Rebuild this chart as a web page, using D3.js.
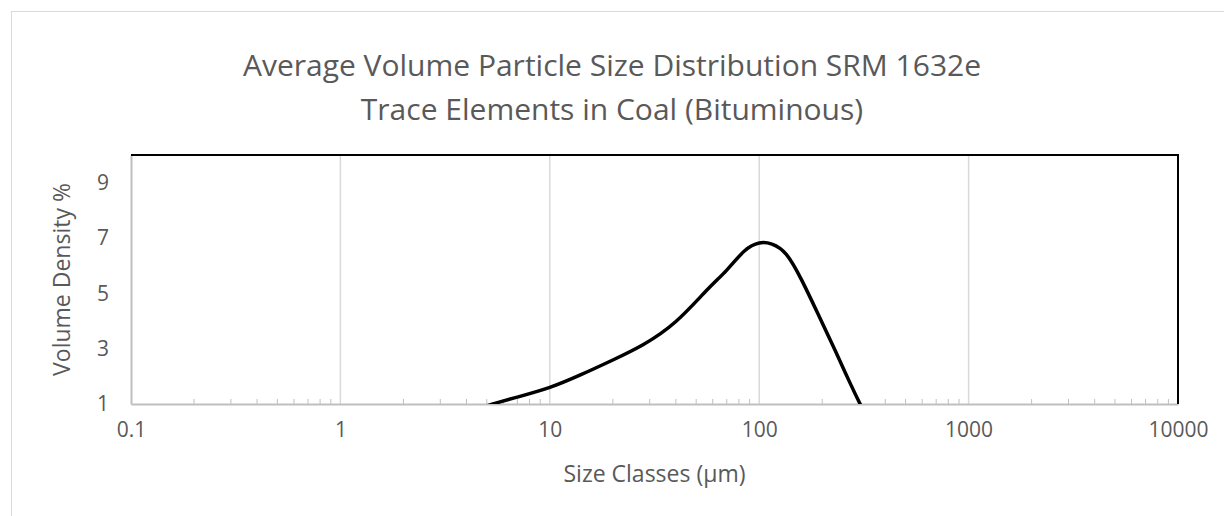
<!DOCTYPE html>
<html>

<head>
	<meta charset="utf-8">
    <script src="https://d3js.org/d3.v7.min.js"></script>
    <style>
        body { margin: 0; background: #fff; }
        text { font-family: "Open Sans", sans-serif; fill: #595959; }
    </style>
</head>
<body>
    <script>
        // Size classes (um) and volume density (%)
        let sizes = [3.5, 5, 7, 10, 14, 20, 28, 40, 56, 70, 85, 100, 115, 135, 160, 190, 230, 270, 320, 380];
        let density = [0.5, 0.93, 1.25, 1.60, 2.05, 2.59, 3.15, 3.98, 5.10, 5.84, 6.53, 6.82, 6.78, 6.40, 5.46, 4.29, 2.95, 1.80, 0.65, -0.4];

        let xTicks = [0.1, 1, 10, 100, 1000, 10000];
        let xTickLabels = ["0.1", "1", "10", "100", "1000", "10000"];
        let yTicks = [1, 3, 5, 7, 9];

        let titleLines = ["Average Volume Particle Size Distribution SRM 1632e", "Trace Elements in Coal (Bituminous)"];

        let width = 1224,
            height = 516;
        let margin = {top: 155, right: 46, bottom: 112, left: 131};
        let plotW = width - margin.left - margin.right,
            plotH = height - margin.top - margin.bottom;

        let svg = d3.select("body").append("svg")
            .attr("width", width)
            .attr("height", height);

        // chart frame
        svg.append("rect")
            .attr("x", 11.5).attr("y", 11.5)
            .attr("width", width).attr("height", height)
            .style("fill", "none")
            .style("stroke", "#d9d9d9");

        // title
        svg.append("g").selectAll("text")
            .data(titleLines)
            .join("text")
                .attr("x", width / 2)
                .attr("y", function(d, i) {return 76 + i * 44;})
                .attr("text-anchor", "middle")
                .style("font-size", "30px")
                .text(function(d) {return d;});

        let x = d3.scaleLog().domain([0.1, 10000]).range([0, plotW]);
        let y = d3.scaleLinear().domain([1, 10]).range([plotH, 0]);

        let g = svg.append("g")
            .attr("transform", "translate(" + margin.left + "," + margin.top + ")");

        // vertical gridlines
        g.selectAll(".grid")
            .data(xTicks.slice(1, -1))
            .join("line")
                .attr("x1", function(d) {return x(d);})
                .attr("x2", function(d) {return x(d);})
                .attr("y1", 0)
                .attr("y2", plotH)
                .style("stroke", "#d9d9d9")
                .style("stroke-width", 1.5);

        // minor ticks
        let minors = [];
        xTicks.slice(0, -1).forEach(function(d) {
            for (let k = 2; k < 10; k++) minors.push(d * k);
        });
        g.selectAll(".minor")
            .data(minors)
            .join("line")
                .attr("x1", function(d) {return x(d);})
                .attr("x2", function(d) {return x(d);})
                .attr("y1", plotH)
                .attr("y2", plotH - 5)
                .style("stroke", "#bfbfbf")
                .style("stroke-width", 1);

        // x axis
        let xAxis = g.append("g")
            .attr("transform", "translate(0," + plotH + ")")
            .call(d3.axisBottom(x).tickValues(xTicks).tickSize(0).tickPadding(18)
                .tickFormat(function(d, i) {return xTickLabels[i];}));
        xAxis.select(".domain").style("stroke", "#bfbfbf").style("stroke-width", 2);
        xAxis.selectAll("text").style("font-size", "21px").style("font-family", "Open Sans").attr("fill", "#595959");

        // y axis
        let yAxis = g.append("g")
            .call(d3.axisLeft(y).tickValues(yTicks).tickSize(0).tickPadding(22));
        yAxis.select(".domain").style("stroke", "#bfbfbf").style("stroke-width", 2);
        yAxis.selectAll("text").style("font-size", "21px").style("font-family", "Open Sans").attr("fill", "#595959");

        // top and right border
        g.append("path")
            .attr("d", "M0,0H" + plotW + "V" + plotH)
            .style("fill", "none")
            .style("stroke", "#000")
            .style("stroke-width", 2);

        // clip
        g.append("clipPath").attr("id", "clip")
            .append("rect").attr("width", plotW).attr("height", plotH);

        let line = d3.line()
            .x(function(d, i) {return x(sizes[i]);})
            .y(function(d) {return y(d);})
            .curve(d3.curveNatural);

        g.append("path")
            .datum(density)
            .attr("clip-path", "url(#clip)")
            .attr("d", line)
            .style("fill", "none")
            .style("stroke", "#000")
            .style("stroke-width", 3.5);

        // axis titles
        svg.append("text")
            .attr("x", margin.left + plotW / 2)
            .attr("y", 482)
            .attr("text-anchor", "middle")
            .style("font-size", "23px")
            .text("Size Classes (\u00b5m)");

        svg.append("text")
            .attr("transform", "translate(70," + (margin.top + plotH / 2) + ") rotate(-90)")
            .attr("text-anchor", "middle")
            .style("font-size", "23px")
            .text("Volume Density %");
    </script>
</body>
</html>
